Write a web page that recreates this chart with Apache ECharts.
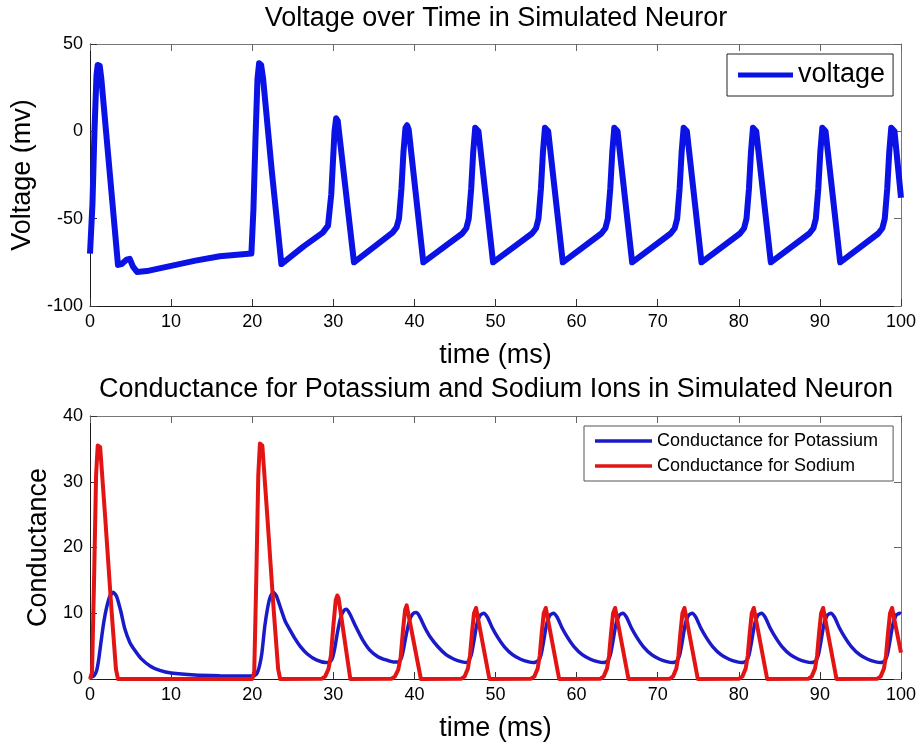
<!DOCTYPE html>
<html>
<head>
<meta charset="utf-8">
<script src="https://cdn.jsdelivr.net/npm/echarts@6/dist/echarts.min.js"></script>
<style>
html,body{margin:0;padding:0;background:#fff;}
#chart{width:919px;height:745px;}
</style>
</head>
<body>
<div id="chart"></div>
<script>
// ---- Data ----
const xTicks = [0, 10, 20, 30, 40, 50, 60, 70, 80, 90, 100];
const voltageTicks = [-100, -50, 0, 50];
const conductanceTicks = [0, 10, 20, 30, 40];

// [time (ms), voltage (mV)]
const voltage = [
  [0,-70],[0.3,-42],[0.55,0],[0.8,32],[0.95,38],[1.2,37.5],[1.4,30],[2.4,-22],[3.45,-76.5],
  [3.9,-76],[4.5,-73.5],[4.9,-73],[5.3,-77.5],[5.8,-80.5],[7,-80],[10,-77],[13,-74],[16,-71.5],[19.9,-70],
  [20.15,-45],[20.4,-5],[20.65,30],[20.85,39],[21.1,38],[21.35,30],[22.4,-22],[23.6,-76],
  [26.3,-66],[28.7,-58],[29.35,-54],[29.75,-36],[29.95,-18],[30.15,0],[30.35,7.5],[30.55,6],[32.55,-75],
  [37.3,-58],[37.8,-55],[38.1,-50],[38.4,-33],[38.65,-12],[38.9,2],[39.1,3.5],[39.3,1],[41.1,-75],
  [45.9,-58.5],[46.4,-55.5],[46.7,-50],[47.0,-33],[47.25,-12],[47.5,2],[47.7,3],[47.9,0],[49.7,-75],
  [54.5,-58.5],[55.0,-55.5],[55.3,-50],[55.6,-33],[55.85,-12],[56.1,2],[56.3,3],[56.5,0],[58.3,-75],
  [63.05,-58.5],[63.55,-55.5],[63.85,-50],[64.15,-33],[64.4,-12],[64.65,2],[64.85,3],[65.05,0],[66.85,-75],
  [71.6,-58.5],[72.1,-55.5],[72.4,-50],[72.7,-33],[72.95,-12],[73.2,2],[73.4,3],[73.6,0],[75.4,-75],
  [80.15,-58.5],[80.65,-55.5],[80.95,-50],[81.25,-33],[81.5,-12],[81.75,2],[81.95,3],[82.15,0],[83.95,-75],
  [88.7,-58.5],[89.2,-55.5],[89.5,-50],[89.8,-33],[90.05,-12],[90.3,2],[90.5,3],[90.7,0],[92.5,-75],
  [97.2,-58.5],[97.7,-55.5],[98.0,-50],[98.3,-33],[98.55,-12],[98.8,2],[99.0,3],[99.2,0],[100,-38]
];

// [time (ms), potassium conductance]
const potassium = [
  [0,0.2],[0.5,0.5],[0.82,1.3],[1.1,3.2],[1.44,6.4],[1.75,9],[2.05,10.9],[2.45,12.6],[2.87,13.2],[3.3,12.5],
  [3.8,10.3],[4.3,7.6],[4.9,5.6],[5.5,4.4],[6.3,3.1],[7.5,1.9],[8.6,1.3],[10,0.9],[12.9,0.6],[16,0.5],[19.9,0.45],
  [20.3,0.55],[20.6,0.9],[20.9,2],[21.2,4],[21.55,8],[21.9,10.8],[22.2,12.4],[22.6,13.2],[23.0,12.6],[23.5,10.8],
  [24.1,8.7],[24.6,7.6],[25.3,6.1],[25.9,5],[26.8,3.8],[27.9,2.9],[29.1,2.5],[29.6,2.6],
  [29.9,3.2],[30.2,4.8],[30.5,7],[30.9,9.3],[31.3,10.4],[31.6,10.6],[32.0,10.0],[32.8,7.9],[33.6,6],[34.5,4.4],
  [35.5,3.4],[36.5,2.9],[37.4,2.6],[38.0,2.6],
  [38.4,3.2],[38.7,4.8],[39.0,6.8],[39.4,8.9],[39.8,9.9],[40.2,10.1],[40.6,9.6],[41.3,7.8],[42.0,6.3],[42.9,4.9],
  [43.9,3.7],[44.9,3.0],[45.9,2.6],[46.5,2.5],
  [46.7,2.8],[47.0,3.6],[47.3,5.5],[47.7,8.3],[48.1,9.7],[48.55,10.0],[49.0,9.4],[49.6,7.8],[50.3,6.3],[51.1,4.9],[52.1,3.7],[53.1,3.0],[54.1,2.6],[54.7,2.5],
  [55.3,2.8],[55.6,3.6],[55.9,5.5],[56.3,8.3],[56.7,9.7],[57.15,10.0],[57.6,9.4],[58.2,7.8],[58.9,6.3],[59.7,4.9],[60.7,3.7],[61.7,3.0],[62.7,2.6],[63.3,2.5],
  [63.85,2.8],[64.15,3.6],[64.45,5.5],[64.85,8.3],[65.25,9.7],[65.7,10.0],[66.15,9.4],[66.75,7.8],[67.45,6.3],[68.25,4.9],[69.25,3.7],[70.25,3.0],[71.25,2.6],[71.85,2.5],
  [72.4,2.8],[72.7,3.6],[73.0,5.5],[73.4,8.3],[73.8,9.7],[74.25,10.0],[74.7,9.4],[75.3,7.8],[76.0,6.3],[76.8,4.9],[77.8,3.7],[78.8,3.0],[79.8,2.6],[80.4,2.5],
  [80.95,2.8],[81.25,3.6],[81.55,5.5],[81.95,8.3],[82.35,9.7],[82.8,10.0],[83.25,9.4],[83.85,7.8],[84.55,6.3],[85.35,4.9],[86.35,3.7],[87.35,3.0],[88.35,2.6],[88.95,2.5],
  [89.5,2.8],[89.8,3.6],[90.1,5.5],[90.5,8.3],[90.9,9.7],[91.35,10.0],[91.8,9.4],[92.4,7.8],[93.1,6.3],[93.9,4.9],[94.9,3.7],[95.9,3.0],[96.9,2.6],[97.5,2.5],
  [98.0,2.8],[98.3,3.6],[98.6,5.5],[99.0,8.3],[99.4,9.7],[99.85,10.0],[100,9.9]
];

// [time (ms), sodium conductance]
const sodium = [
  [0,0],[0.25,1],[0.5,15],[0.75,31],[0.95,35.5],[1.25,35.3],[1.85,25],[2.65,10.5],[3.2,1.5],[3.45,0],
  [20.0,0],[20.25,1],[20.5,15],[20.75,31],[20.95,35.8],[21.25,35.5],[21.85,25],[22.65,10.5],[23.2,1.5],[23.45,0],
  [28.6,0.05],[29.0,0.4],[29.4,1.5],[29.7,3.5],[30.0,8],[30.3,12],[30.5,12.7],[30.65,12.3],[32.1,0],
  [37.2,0.05],[37.6,0.4],[38.0,1.4],[38.3,3.2],[38.6,7.5],[38.85,10.5],[39.05,11.2],[39.2,10.9],[40.8,0],
  [45.8,0.05],[46.2,0.4],[46.6,1.6],[46.85,3.5],[47.1,7],[47.35,10],[47.6,10.8],[47.75,10.5],[49.25,0],
  [54.4,0.05],[54.8,0.4],[55.2,1.6],[55.45,3.5],[55.7,7],[55.95,10],[56.2,10.8],[56.35,10.5],[57.85,0],
  [62.95,0.05],[63.35,0.4],[63.75,1.6],[64.0,3.5],[64.25,7],[64.5,10],[64.75,10.8],[64.9,10.5],[66.4,0],
  [71.5,0.05],[71.9,0.4],[72.3,1.6],[72.55,3.5],[72.8,7],[73.05,10],[73.3,10.8],[73.45,10.5],[74.95,0],
  [80.05,0.05],[80.45,0.4],[80.85,1.6],[81.1,3.5],[81.35,7],[81.6,10],[81.85,10.8],[82.0,10.5],[83.5,0],
  [88.6,0.05],[89.0,0.4],[89.4,1.6],[89.65,3.5],[89.9,7],[90.15,10],[90.4,10.8],[90.55,10.5],[92.05,0],
  [97.1,0.05],[97.5,0.4],[97.9,1.6],[98.15,3.5],[98.4,7],[98.65,10],[98.9,10.8],[99.05,10.5],[100,4]
];

// ---- Chart ----
const FONT = 'Liberation Sans, Arial, Helvetica, sans-serif';
const chart = echarts.init(document.getElementById('chart'), null, {renderer: 'canvas'});

function xAx(gridIndex, bottom) {
  return {
    type: 'value', gridIndex: gridIndex, min: xTicks[0], max: xTicks[xTicks.length - 1], interval: 10,
    position: bottom ? 'bottom' : 'top',
    name: bottom ? 'time (ms)' : '', nameLocation: 'middle', nameGap: 36,
    nameTextStyle: {fontFamily: FONT, fontSize: 27, color: '#000'},
    axisLine: {show: true, onZero: false, lineStyle: {color: bottom ? '#1a1a1a' : '#777', width: 1}},
    axisTick: {show: true, inside: true, length: 7, lineStyle: {color: bottom ? '#333' : '#666'}},
    axisLabel: {show: bottom, fontFamily: FONT, fontSize: 18, color: '#000', margin: 7},
    splitLine: {show: false}
  };
}
function yAx(gridIndex, left, ticks, name, gap) {
  return {
    type: 'value', gridIndex: gridIndex, min: ticks[0], max: ticks[ticks.length - 1],
    interval: ticks[1] - ticks[0], position: left ? 'left' : 'right',
    name: left ? name : '', nameLocation: 'middle', nameGap: gap, nameRotate: 90,
    nameTextStyle: {fontFamily: FONT, fontSize: 27, color: '#000'},
    axisLine: {show: true, onZero: false, lineStyle: {color: left ? '#1a1a1a' : '#777', width: 1}},
    axisTick: {show: true, inside: true, length: 7, lineStyle: {color: left ? '#333' : '#666'}},
    axisLabel: {show: left, fontFamily: FONT, fontSize: 18, color: '#000', margin: 7},
    splitLine: {show: false}
  };
}

const option = {
  animation: false,
  backgroundColor: '#fff',
  title: [
    {text: 'Voltage over Time in Simulated Neuror', left: 496, top: 5, textAlign: 'center', padding: 0,
     textStyle: {fontFamily: FONT, fontSize: 27, fontWeight: 'normal', color: '#000'}},
    {text: 'Conductance for Potassium and Sodium Ions in Simulated Neuron', left: 496, top: 376, textAlign: 'center', padding: 0,
     textStyle: {fontFamily: FONT, fontSize: 27, fontWeight: 'normal', color: '#000'}}
  ],
  grid: [
    {left: 90, top: 44, width: 812, height: 262, containLabel: false},
    {left: 90, top: 416, width: 812, height: 263, containLabel: false}
  ],
  xAxis: [xAx(0, true), xAx(0, false), xAx(1, true), xAx(1, false)],
  yAxis: [
    yAx(0, true, voltageTicks, 'Voltage (mv)', 47),
    yAx(0, false, voltageTicks, '', 0),
    yAx(1, true, conductanceTicks, 'Conductance', 38),
    yAx(1, false, conductanceTicks, '', 0)
  ],
  legend: [
    {data: ['voltage'], left: 727, top: 54, orient: 'vertical', icon: 'rect',
     itemWidth: 55, itemHeight: 5, itemGap: 0, padding: [7, 8, 7, 11],
     borderColor: '#222', borderWidth: 1, backgroundColor: '#fff',
     textStyle: {fontFamily: FONT, fontSize: 27, color: '#000', lineHeight: 28}},
    {data: ['Conductance for Potassium', 'Conductance for Sodium'], left: 584, top: 426, orient: 'vertical', icon: 'rect',
     itemWidth: 57, itemHeight: 3.5, itemGap: 5, padding: [5, 15, 5, 11],
     borderColor: '#555', borderWidth: 1, backgroundColor: '#fff',
     textStyle: {fontFamily: FONT, fontSize: 18, color: '#000', lineHeight: 20}}
  ],
  series: [
    {name: 'voltage', type: 'line', xAxisIndex: 0, yAxisIndex: 0, data: voltage,
     showSymbol: false, clip: false, color: '#0a12e6', lineStyle: {width: 6, color: '#0a12e6', join: 'round'}},
    {name: 'Conductance for Potassium', type: 'line', xAxisIndex: 2, yAxisIndex: 2, data: potassium,
     showSymbol: false, clip: false, smooth: 0.2, color: '#1a1ac8', lineStyle: {width: 3.5, color: '#1a1ac8'}},
    {name: 'Conductance for Sodium', type: 'line', xAxisIndex: 2, yAxisIndex: 2, data: sodium,
     showSymbol: false, clip: false, color: '#e31414', lineStyle: {width: 4, color: '#e31414', join: 'round'}}
  ]
};
chart.setOption(option);
</script>
</body>
</html>
